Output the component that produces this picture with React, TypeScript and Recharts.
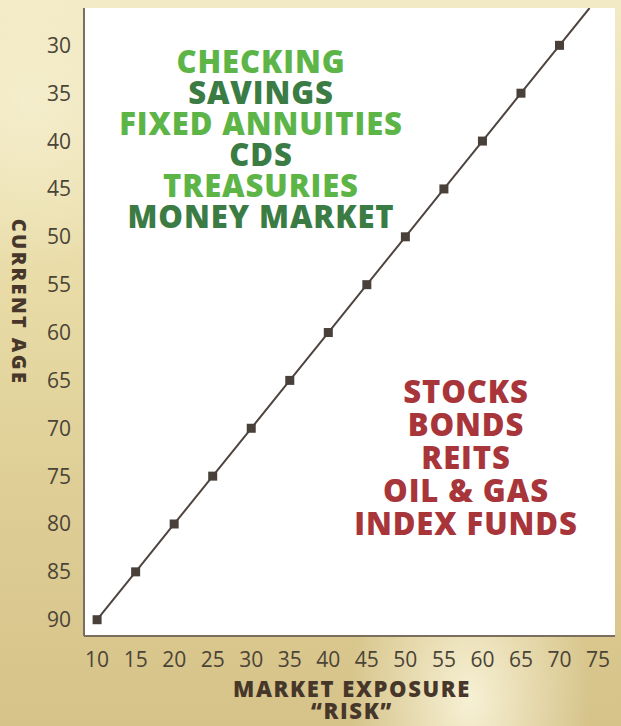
import React from 'react';
import { CartesianGrid, Line, LineChart, XAxis, YAxis } from 'recharts';

// market exposure (%) against current age, one marker per step
const exposure = [10, 15, 20, 25, 30, 35, 40, 45, 50, 55, 60, 65, 70];
const age = [90, 85, 80, 75, 70, 65, 60, 55, 50, 45, 40, 35, 30];
// the drawn line runs on past the last marker to the top of the plot
const lineEnd = { exposure: 73.9, age: 26.1 };

const xTicks = [10, 15, 20, 25, 30, 35, 40, 45, 50, 55, 60, 65, 70, 75];
const yTicks = [30, 35, 40, 45, 50, 55, 60, 65, 70, 75, 80, 85, 90];

const safeList = ['CHECKING', 'SAVINGS', 'FIXED ANNUITIES', 'CDS', 'TREASURIES', 'MONEY MARKET'];
const riskList = ['STOCKS', 'BONDS', 'REITS', 'OIL & GAS', 'INDEX FUNDS'];

const data = [
  ...exposure.map((x, i) => ({ exposure: x, age: age[i] })),
  lineEnd,
];

const FONT = '"Open Sans", "Noto Sans", sans-serif';
const LIGHT_GREEN = '#5db548';
const DARK_GREEN = '#3b7b44';
const RED = '#a8353a';
const TICK = '#4a4436';
const TITLE = '#46372a';

const Marker = (props: any) => {
  const { cx, cy, index } = props;
  if (index >= exposure.length) return <g key={`dot-${index}`} />;
  return <rect key={`dot-${index}`} x={cx - 4.5} y={cy - 4.5} width={9} height={9} fill="#4a403a" />;
};

const YTitle = () => {
  const cx = 19;
  const cy = 302;
  return (
    <text
      x={cx}
      y={cy}
      transform={`rotate(90 ${cx} ${cy})`}
      textAnchor="middle"
      dominantBaseline="central"
      fontFamily={FONT}
      fontWeight={800}
      fontSize={20}
      letterSpacing={2.4}
      fill={TITLE}
    >
      CURRENT AGE
    </text>
  );
};

const XTitle = () => (
  <text textAnchor="middle" fontFamily={FONT} fontWeight={800} fontSize={22} letterSpacing={1.6} fill={TITLE}>
    <tspan x={352} y={697}>MARKET EXPOSURE</tspan>
    <tspan x={352} y={719}>“RISK”</tspan>
  </text>
);

const listStyle: React.CSSProperties = {
  position: 'absolute',
  textAlign: 'center',
  fontFamily: FONT,
  fontWeight: 800,
  fontSize: 31,
  letterSpacing: 0.9,
  whiteSpace: 'nowrap',
};

const App = () => {
  return (
    <div
      style={{
        position: 'absolute',
        top: 0,
        left: 0,
        width: 621,
        height: 726,
        overflow: 'hidden',
        background:
          'radial-gradient(ellipse at 470px 700px, rgba(250,245,220,0.9) 0%, rgba(250,245,220,0) 120px),' +
          'radial-gradient(ellipse at 30px 100px, rgba(245,238,205,0.9) 0%, rgba(245,238,205,0) 160px),' +
          'linear-gradient(180deg, #f2eac4 0%, #e8dba6 40%, #dccb92 75%, #d6c38a 100%)',
      }}
    >
      <LineChart
        width={621}
        height={726}
        data={data}
        margin={{ top: 8, right: 6, bottom: 0, left: 0 }}
      >
        <CartesianGrid horizontal={false} vertical={false} fill="#ffffff" />
        <XAxis
          type="number"
          dataKey="exposure"
          domain={[8.3, 77.2]}
          ticks={xTicks}
          allowDataOverflow
          height={90}
          tickLine={false}
          tickSize={6}
          tickMargin={10}
          stroke="#7a6e5e"
          strokeWidth={2}
          tick={{ fill: TICK, fontSize: 21, fontFamily: FONT }}
          label={<XTitle />}
        />
        <YAxis
          type="number"
          dataKey="age"
          domain={[26.1, 91.7]}
          reversed
          ticks={yTicks}
          allowDataOverflow
          width={84}
          tickLine={false}
          tickSize={6}
          tickMargin={7}
          stroke="#7a6e5e"
          strokeWidth={2}
          tick={{ fill: TICK, fontSize: 21, fontFamily: FONT }}
          label={<YTitle />}
        />
        <Line
          type="linear"
          dataKey="age"
          stroke="#4e4540"
          strokeWidth={2}
          dot={Marker}
          activeDot={false}
          isAnimationActive={false}
        />
      </LineChart>
      <div style={{ ...listStyle, left: 0, top: 46, width: 522, lineHeight: '31px' }}>
        {safeList.map((s, i) => (
          <div key={s} style={{ color: i % 2 === 0 ? LIGHT_GREEN : DARK_GREEN }}>{s}</div>
        ))}
      </div>
      <div style={{ ...listStyle, left: 338, top: 375, width: 256, lineHeight: '33px', color: RED }}>
        {riskList.map((s) => (
          <div key={s}>{s}</div>
        ))}
      </div>
    </div>
  );
};

export default App;
